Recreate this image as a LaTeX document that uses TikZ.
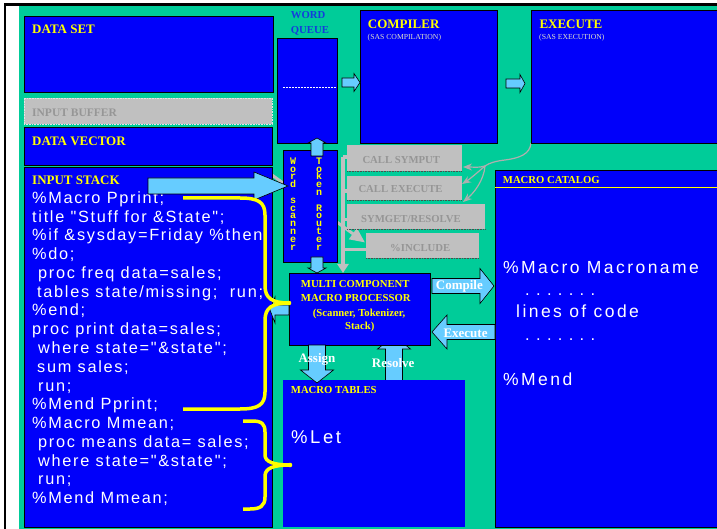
\documentclass[tikz,border=0pt]{standalone}
\usepackage{fontspec}
\setmainfont{Liberation Serif}
\newfontfamily\codefont[LetterSpace=10.5]{Liberation Sans}
\newfontfamily\catfont[LetterSpace=14]{Liberation Sans}
\newfontfamily\scanfont{Liberation Mono}
\usetikzlibrary{calc,arrows.meta}
\pgfdeclarelayer{bottom}
\pgfdeclarelayer{back}
\pgfsetlayers{bottom,back,main}

\definecolor{bg}{RGB}{0,204,153}
\definecolor{boxblue}{RGB}{0,0,250}
\definecolor{pale}{RGB}{102,204,255}
\definecolor{ylw}{RGB}{255,255,0}
\definecolor{gbox}{RGB}{192,192,192}
\definecolor{gtext}{RGB}{150,150,150}
\definecolor{qblue}{RGB}{20,60,220}
\definecolor{subtxt}{RGB}{225,225,200}
\definecolor{gline}{RGB}{175,175,175}

\tikzset{
  panel/.style={draw=black, line width=0.8pt, fill=boxblue, inner sep=0pt, outer sep=0pt, anchor=north west},
  flatpanel/.style={fill=boxblue, inner sep=0pt, outer sep=0pt, anchor=north west},
  greybox/.style={fill=gbox, inner sep=0pt, outer sep=0pt, anchor=north west},
  boxtitle/.style={text=ylw, font=\bfseries\fontsize{13}{15}\selectfont, inner sep=0pt, anchor=base west},
  smalltitle/.style={boxtitle, font=\bfseries\fontsize{10.7}{12}\selectfont},
  subtitle/.style={text=subtxt, font=\fontsize{7.7}{9}\selectfont, inner sep=0pt, anchor=base west},
  greytext/.style={text=gtext, font=\bfseries\fontsize{10.7}{12}\selectfont, inner sep=0pt, anchor=base west},
  arrowlabel/.style={text=white, font=\bfseries\fontsize{13}{15}\selectfont, inner sep=0pt, anchor=base west},
  codeline/.style={text=white, font=\codefont\fontsize{16.3}{18}\selectfont, inner sep=0pt, anchor=base west},
  catline/.style={text=white, font=\catfont\fontsize{17.5}{20}\selectfont, inner sep=0pt, anchor=base west},
  dotline/.style={text=white, font=\codefont\fontsize{16.5}{20}\selectfont\frenchspacing, inner sep=0pt, anchor=base west},
  scancolumn/.style={text=ylw, font=\scanfont\bfseries\fontsize{10}{7.8}\selectfont, inner sep=0pt,
                     anchor=north, align=center},
  barrow/.style={fill=pale, draw=black, line width=0.6pt, line join=miter},
  greybar/.style={draw=gbox, line width=3.5pt},
  greythin/.style={draw=gline, line width=1.2pt, -{Stealth[length=9pt,width=7pt]}},
  bracestroke/.style={draw=ylw, line width=3.5pt, line join=round},
  bufferedge/.style={draw=gray!60!black, densely dotted, line width=0.6pt},
}

% box: style, name, x, y, width, height (top-left corner, y downwards)
\newcommand\panelbox[6]{\node[#1, minimum width=#5pt, minimum height=#6pt] (#2) at (#3,#4) {};}

% block arrow: [extra], tail, tip, shaft half width, head half width, head length
\newcommand\blockarrow[6][]{%
  \coordinate (ba-t) at (#2);
  \coordinate (ba-h) at (#3);
  \coordinate (ba-b) at ($(ba-h)!#6!(ba-t)$);
  \draw[barrow,#1] ($(ba-t)!#4!90:(ba-h)$) -- ($(ba-b)!#4!90:(ba-h)$)
    -- ($(ba-b)!#5!90:(ba-h)$) -- (ba-h) -- ($(ba-b)!#5!-90:(ba-h)$)
    -- ($(ba-b)!#4!-90:(ba-h)$) -- ($(ba-t)!#4!-90:(ba-h)$) -- cycle;
}

\begin{document}
\begin{tikzpicture}[x=1pt,y=-1pt]
\useasboundingbox (0,0) rectangle (717,529);

% ---------- boxes ----------
\panelbox{panel}{dset}{24}{16}{249}{76}
\node[greybox, draw=white!80!gray, densely dotted, line width=0.6pt,
      minimum width=248pt, minimum height=26pt] (ibuf) at (24,98) {};
\panelbox{panel}{dvec}{24}{127}{248}{38}
\panelbox{panel}{istack}{24}{167}{248}{360}
\panelbox{panel}{wqueue}{277}{38}{60}{105}
\panelbox{panel}{comp}{360}{10}{137}{133}
\panelbox{panel}{exec}{531}{10}{200}{133}
\panelbox{panel}{scan}{283}{150}{54}{112}
\panelbox{greybox}{csym}{347}{145}{115}{26}
\panelbox{greybox}{cexe}{347}{176}{115}{24}
\panelbox{greybox}{sget}{347}{204}{138}{25}
\panelbox{greybox}{incl}{366}{233}{113}{25}
\panelbox{panel}{mcp}{289}{273}{141}{72}
\panelbox{flatpanel}{mtab}{283}{380}{182}{147}
\panelbox{panel}{mcat}{495}{170}{230}{357}

\foreach \b in {csym,cexe,sget,incl}
  \draw[bufferedge] (\b.south west) -- (\b.south east);
\draw[white, dash pattern=on 2pt off 1pt, line width=0.5pt]
  ($(wqueue.west)+(6,-3.5)$) -- ($(wqueue.east)+(-1,-3.5)$);
\draw[ylw, line width=1pt] ($(mcat.north west)+(0,18)$) -- ($(mcat.north east)+(0,18)$);

% ---------- titles ----------
\node[boxtitle] (tdset) at (32,33.3) {DATA SET};
\node[greytext, font=\bfseries\fontsize{11.5}{13}\selectfont] (tibuf) at (32,117) {INPUT BUFFER};
\node[boxtitle] (tdvec) at (32,146) {DATA VECTOR};
\node[boxtitle] (tistack) at (32,185) {INPUT STACK};
\node[boxtitle] (tcomp) at (367.7,28.3) {COMPILER};
\node[subtitle] (scomp) at (367.5,39.5) {(SAS COMPILATION)};
\node[boxtitle] (texec) at (539.3,28.3) {EXECUTE};
\node[subtitle] (sexec) at (539,39.5) {(SAS EXECUTION)};
\node[smalltitle, text=qblue] (twq1) at (290.7,19) {WORD};
\node[smalltitle, text=qblue] (twq2) at (290.7,33.3) {QUEUE};
\node[smalltitle] (tmcat) at (502.7,184) {MACRO CATALOG};
\node[smalltitle] (tmtab) at (290.7,393.3) {MACRO TABLES};
\node[smalltitle] (tmcp1) at (300.7,287.3) {MULTI COMPONENT};
\node[smalltitle] (tmcp2) at (300.7,301.7) {MACRO PROCESSOR};
\node[smalltitle] (tmcp3) at (312.7,316) {(Scanner, Tokenizer,};
\node[smalltitle] (tmcp4) at (345,329) {Stack)};
\node[greytext] (tcsym) at (362.3,163.3) {CALL SYMPUT};
\node[greytext] (tcexe) at (358.3,192.7) {CALL EXECUTE};
\node[greytext] (tsget) at (361,222.7) {SYMGET/RESOLVE};
\node[greytext] (tincl) at (390,251.7) {\%INCLUDE};

% ---------- vertical scanner labels, one letter per line ----------
\node[scancolumn] (wscan) at (293,157.6)
  {W\\o\\r\\d\\[7.8pt]s\\c\\a\\n\\n\\e\\r};
\node[scancolumn] (trout) at (319,157.6)
  {T\\o\\k\\e\\n\\[7.8pt]R\\o\\u\\t\\e\\r};

% ---------- input stack code ----------
\node[codeline] (c1) at (32,204) {\%Macro Pprint;};
\node[codeline] (c2) at (32,223) {title "Stuff for \&State";};
\node[codeline] (c3) at (32,241) {\%if \&sysday=Friday \%then};
\node[codeline] (c4) at (32,259) {\%do;};
\node[codeline] (c5) at (38,278) {proc freq data=sales;};
\node[codeline] (c6) at (37,297) {tables state/missing; \ run;};
\node[codeline] (c7) at (32,315) {\%end;};
\node[codeline] (c8) at (32,334) {proc print data=sales;};
\node[codeline] (c9) at (38,353) {where state="\&state";};
\node[codeline] (c10) at (37,372) {sum sales;};
\node[codeline] (c11) at (38,391) {run;};
\node[codeline] (c12) at (32,409) {\%Mend Pprint;};
\node[codeline] (c13) at (32,428) {\%Macro Mmean;};
\node[codeline] (c14) at (38,447) {proc means data= sales;};
\node[codeline] (c15) at (38,466) {where state="\&state";};
\node[codeline] (c16) at (38,484) {run;};
\node[codeline] (c17) at (32,503) {\%Mend Mmean;};

% ---------- catalog and tables contents ----------
\node[catline] (k1) at (503,273) {\%Macro Macroname};
\node[dotline] (k2) at (525,295) {. . . . . . .};
\node[catline] (k3) at (516,317) {lines of code};
\node[dotline] (k4) at (525,340) {. . . . . . .};
\node[catline] (k5) at (503,385) {\%Mend};
\node[catline, font=\catfont\fontsize{18.5}{20}\selectfont] (klet) at (291,443) {\%Let};

% ---------- block arrows ----------
\blockarrow{$(wqueue.east)+(5,-8)$}{$(comp.west)+(0,6)$}{4.5pt}{9pt}{6pt}
\blockarrow{$(comp.east)+(9,7)$}{$(exec.west)+(-6,7)$}{4.5pt}{9pt}{5pt}
\blockarrow{$(istack.north east)+(-124,19)$}{$(scan.west)+(5,-20)$}{8pt}{14pt}{34pt}
\blockarrow{$(scan.north)+(7,6)$}{$(wqueue.south)+(10,-5)$}{6pt}{9pt}{5pt}
\blockarrow{$(scan.south)+(7,-5)$}{$(mcp.north)+(-42.5,0)$}{6pt}{9pt}{5pt}
\blockarrow{$(mcp.west)+(0,1)$}{$(istack.east)+(-2,-37)$}{5pt}{13pt}{5pt}
\blockarrow{$(mcp.east)+(2,-23)$}{$(mcat.west)+(-1,-62.5)$}{7.5pt}{17.5pt}{14pt}
\blockarrow{$(mcat.west)+(0,-16.5)$}{$(mcp.east)+(2,23)$}{7.5pt}{17pt}{15pt}
\blockarrow{$(mcp.south)+(-42.5,0)$}{$(mtab.north)+(-57,3)$}{8.5pt}{16.5pt}{13pt}

\node[arrowlabel] (lcomp) at (435.7,289.3) {Compile};
\node[arrowlabel] (lexec) at (443.3,337.3) {Execute};
\node[arrowlabel] (lassign) at (298.3,362.7) {Assign};
\node[arrowlabel] (lresolve) at (371.7,367.3) {Resolve};

% ---------- yellow braces grouping the macro definitions ----------
\draw[bracestroke] (183,198) -- (240,198) .. controls (258,198) and (265,202) .. (265,215)
  -- (265,286) .. controls (265,298) and (272,303) .. ($(mcp.west)+(0,-6)$) coordinate (tipA)
  .. controls (272,303) and (265,308) .. (265,320)
  -- (265,392) .. controls (265,405) and (258,409) .. (240,409) -- (183,409);
\fill[ylw] (tipA) circle (2.3);
\draw[bracestroke] (243,421) -- (252,421) .. controls (262,421) and (265,424) .. (265,432)
  -- (265,455) .. controls (265,462) and (274,465) .. ($(mtab.west)+(7,11.5)$) coordinate (tipB)
  .. controls (274,465) and (265,468) .. (265,476)
  -- (265,497) .. controls (265,506) and (260,509) .. (250,509) -- (243,509);
\fill[ylw] (tipB) circle (2.3);

% ---------- grey connectors behind the boxes ----------
\begin{pgfonlayer}{back}
  \coordinate (gtop) at ($(csym.west)+(-4,-1)$);
  \coordinate (s2) at ($(cexe.west)+(0,3)$);
  \coordinate (s3) at ($(sget.west)+(0,3)$);
  \coordinate (s4) at ($(incl.west)+(0,4)$);
  \draw[greybar] (csym.west |- gtop) -- (gtop);
  \draw[greybar, -{Triangle[width=11pt,length=9pt]}] (gtop) -- (gtop |- mcp.north);
  \draw[greybar] (gtop |- s2) -- (s2);
  \draw[greybar] (gtop |- s3) -- (s3);
  \draw[greybar] (gtop |- s4) -- (s4);
  \draw[greybar, line width=3pt, -{Triangle[width=13pt,length=15pt]}]
    ($(istack.north east)+(0,8)$) -- ($(incl.west)+(-1,-3)$);
  \draw[draw=gline, line width=1.2pt] (exec.south west) .. controls (530,154) and (520,158) .. (505,160)
    .. controls (496,161) and (489,163) .. (485,166) coordinate (gsplit);
  \draw[greythin] (gsplit) .. controls (479,168) and (473,167) .. ($(csym.east)+(1,9)$);
  \draw[greythin] (gsplit) .. controls (478,172) and (470,179) .. ($(cexe.east)+(0,-4)$);
  \draw[greythin] (gsplit) .. controls (484,180) and (474,193) .. ($(sget.north east)+(-22,-2)$);
  \blockarrow{$(mtab.north)+(20,2)$}{$(mcp.south)+(34.5,-9)$}{8.5pt}{16.5pt}{13pt}
\end{pgfonlayer}

% ---------- page, frame and backdrop ----------
\begin{pgfonlayer}{bottom}
  \fill[white] (0,0) rectangle (717,529);
  \fill[bg] (19,5) rectangle (717,529);
  \draw[black, line width=2.4pt] (5,529) -- (5,4.5) -- (717,4.5);
\end{pgfonlayer}
\end{tikzpicture}
\end{document}
